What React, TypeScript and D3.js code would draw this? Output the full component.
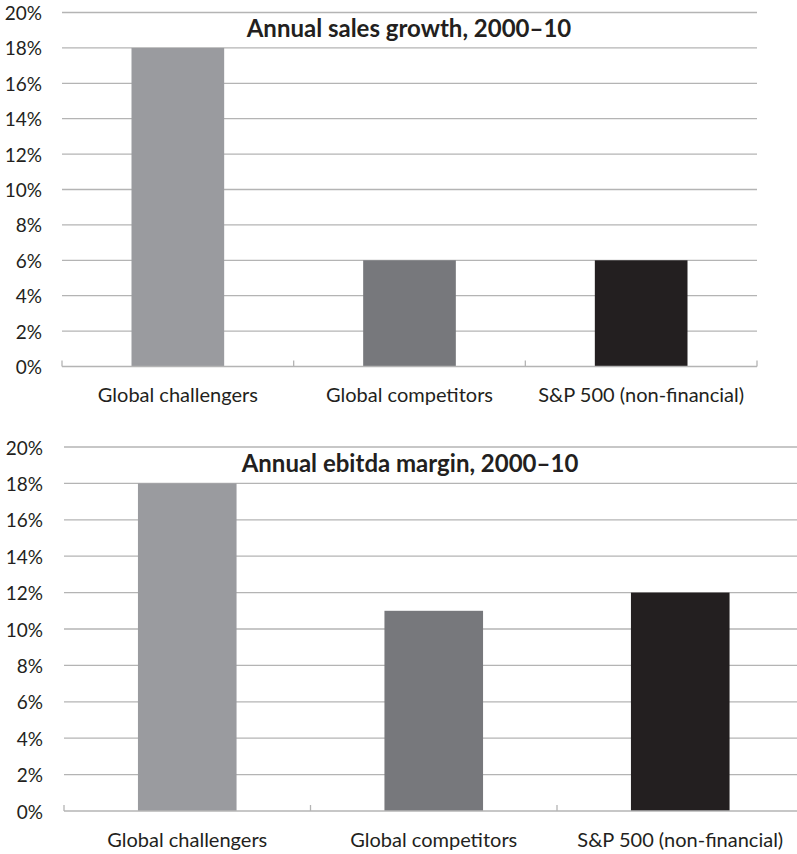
import React from "react";
import * as d3 from "d3";

// Categories shared by both panels
const categories = ["Global challengers", "Global competitors", "S&P 500 (non-financial)"];

// Annual sales growth, 2000–10 (percent)
const salesGrowth = [18, 6, 6];

// Annual ebitda margin, 2000–10 (percent)
const ebitdaMargin = [18, 11, 12];

// Value-axis ticks (percent)
const yTicks = [0, 2, 4, 6, 8, 10, 12, 14, 16, 18, 20];

const barColors = ["#9a9b9f", "#77787c", "#231f20"];

const FONT = "Lato, 'Open Sans', sans-serif";
const GRID = "#b4b4b4";

type PanelProps = {
  title: string;
  values: number[];
  x0: number;
  x1: number;
  yTop: number;
  yZero: number;
  labelRight: number;
  titleX: number;
  titleY: number;
  catY: number;
};

function BarPanel({ title, values, x0, x1, yTop, yZero, labelRight, titleX, titleY, catY }: PanelProps) {
  const x = d3.scaleBand<string>().domain(categories).range([x0, x1]).paddingInner(0.6).paddingOuter(0.3);
  const band = d3.scaleBand<string>().domain(categories).range([x0, x1]);
  const y = d3.scaleLinear().domain([0, 20]).range([yZero, yTop]);
  const boundaries = [x0, ...categories.map((c) => (band(c) as number) + band.bandwidth())];

  return (
    <g>
      {yTicks.filter((t) => t > 0).map((t) => (
        <line key={t} x1={x0} x2={x1} y1={y(t)} y2={y(t)} stroke={GRID} strokeWidth={1.3} />
      ))}
      {yTicks.map((t) => (
        <text
          key={`l${t}`}
          x={labelRight}
          y={y(t)}
          textAnchor="end"
          dominantBaseline="central"
          fontFamily={FONT}
          fontSize={19}
          fill="#231f20"
        >
          {`${t}%`}
        </text>
      ))}
      {values.map((v, i) => (
        <rect
          key={categories[i]}
          x={x(categories[i])}
          width={x.bandwidth()}
          y={y(v)}
          height={y(0) - y(v)}
          fill={barColors[i]}
        />
      ))}
      <line x1={x0} x2={x1} y1={y(0)} y2={y(0)} stroke={GRID} strokeWidth={1.3} />
      {boundaries.map((bx, i) => (
        <line key={`t${i}`} x1={bx} x2={bx} y1={y(0)} y2={y(0) - 6} stroke={GRID} strokeWidth={1.3} />
      ))}
      {categories.map((c) => (
        <text
          key={`c${c}`}
          x={(band(c) as number) + band.bandwidth() / 2}
          y={catY}
          textAnchor="middle"
          fontFamily={FONT}
          fontSize={20}
          fill="#231f20"
        >
          {c}
        </text>
      ))}
      <text
        x={titleX}
        y={titleY}
        textAnchor="middle"
        fontFamily={FONT}
        fontWeight="bold"
        fontSize={24}
        fill="#231f20"
      >
        {title}
      </text>
    </g>
  );
}

export default function App() {
  return (
    <svg
      width={797}
      height={854}
      style={{ position: "absolute", left: 0, top: 0, background: "#ffffff" }}
    >
      <rect width={797} height={854} fill="#ffffff" />
      <BarPanel
        title="Annual sales growth, 2000–10"
        values={salesGrowth}
        x0={62}
        x1={757}
        yTop={12.5}
        yZero={366.5}
        labelRight={42}
        titleX={409}
        titleY={37}
        catY={402}
      />
      <BarPanel
        title="Annual ebitda margin, 2000–10"
        values={ebitdaMargin}
        x0={64}
        x1={803.5}
        yTop={447}
        yZero={811}
        labelRight={43}
        titleX={410}
        titleY={472}
        catY={847}
      />
    </svg>
  );
}
